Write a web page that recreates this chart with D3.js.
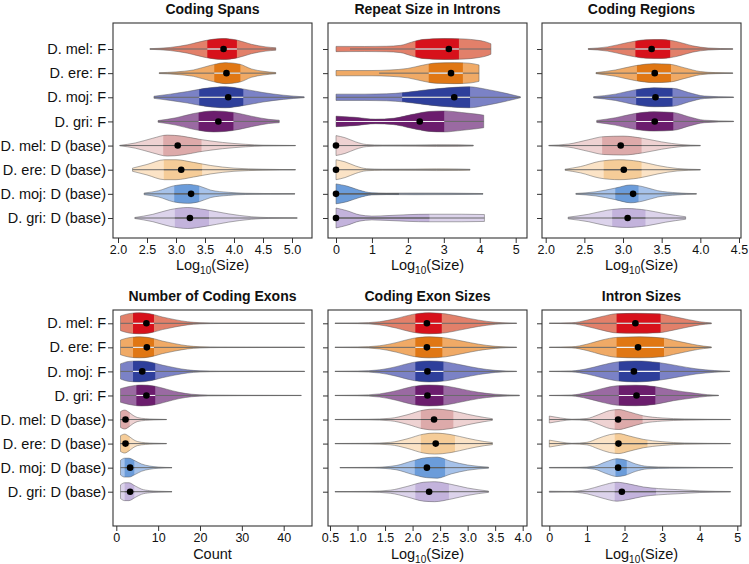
<!DOCTYPE html>
<html><head><meta charset="utf-8">
<script src="https://cdn.jsdelivr.net/npm/d3@7"></script>
<style>body{margin:0;background:#fff;}svg{display:block;font-family:"Liberation Sans",Arial,sans-serif;}</style>
</head><body><svg id="c" width="749" height="564"></svg>
<script>
const categories = ["D. mel: F","D. ere: F","D. moj: F","D. gri: F","D. mel: D (base)","D. ere: D (base)","D. moj: D (base)","D. gri: D (base)"];
const isFull = [true,true,true,true,false,false,false,false];
const outerColors = ["#E2806A","#F0AA66","#7B82C6","#9A6AA2","#EED2D2","#FBE3C6","#A6C2EA","#DCD3EB"];
const innerColors = ["#D7111B","#E07714","#2E3F9B","#6B1D6D","#DDAAAA","#F5CC98","#6B9CDA","#C3B3DC"];
const panelTitles = ["Coding Spans","Repeat Size in Introns","Coding Regions","Number of Coding Exons","Coding Exon Sizes","Intron Sizes"];
const axisTitles = ["log","log","log","Count","log","log"];
const tickValues = [[2.0,2.5,3.0,3.5,4.0,4.5,5.0],[0,1,2,3,4,5],[2.0,2.5,3.0,3.5,4.0,4.5],[0,10,20,30,40],[0.5,1.0,1.5,2.0,2.5,3.0,3.5,4.0],[0,1,2,3,4,5]];
const tickFormats = [".1f","d",".1f","d",".1f","d"];

// stats per category: [whisker low, Q1, Q3, whisker high, mean]
const codingSpansStats = [[2.55,3.54,4.05,4.72,3.82],[2.71,3.66,4.11,4.72,3.87],[2.62,3.40,4.16,5.21,3.90],[2.69,3.39,3.99,4.78,3.73],[2.03,2.78,3.44,5.06,3.03],[2.25,2.79,3.45,5.06,3.09],[2.45,2.97,3.40,5.05,3.26],[2.29,2.98,3.57,5.09,3.24]];
const repeatSizeStats = [[0.39,2.21,3.42,4.31,3.14],[1.2,2.58,3.53,3.98,3.20],[0,1.84,3.73,5.13,3.29],[0,0,3.01,4.11,2.33],[0,0,0,3.82,0],[0,0,0,3.73,0],[0,0,1.75,4.09,0],[0,0,2.6,4.13,0]];
const codingRegionsStats = [[2.55,3.16,3.61,4.42,3.37],[2.65,3.18,3.62,4.42,3.41],[2.62,3.17,3.64,4.43,3.42],[2.66,3.17,3.65,4.43,3.41],[2.04,2.73,3.24,4.00,2.97],[2.25,2.75,3.24,4.00,3.01],[2.39,2.90,3.20,3.95,3.13],[2.29,2.86,3.29,3.81,3.06]];
const exonCountStats = [[1,4,9,45,7.2],[1,4,9,45,7.3],[1,4,9.3,45,6.2],[1,4.8,9.3,44.2,7.2],[1,1,3.2,12,2.2],[1,1,3.2,12,2.2],[1,2,4.3,13.3,3.3],[1,2,4.3,13.3,3.3]];
const exonSizeStats = [[0.59,2.05,2.53,3.89,2.26],[0.59,2.05,2.54,3.89,2.26],[0.59,2.05,2.56,3.89,2.27],[0.59,2.05,2.56,3.94,2.27],[0.59,2.15,2.74,3.45,2.39],[0.59,2.15,2.77,3.45,2.42],[0.68,2.04,2.59,3.38,2.26],[0.59,2.05,2.66,3.38,2.30]];
const intronSizeStats = [[0,1.79,2.96,4.31,2.29],[0,1.79,3.05,4.31,2.36],[0,1.85,2.94,4.80,2.25],[0,1.85,2.82,4.50,2.32],[0,1.74,2.48,4.82,1.83],[0,1.74,2.61,4.82,1.84],[0,1.76,2.06,4.88,1.83],[0,1.74,2.84,4.82,1.93]];

// violin outlines: [value, relative half-width]
const codingSpansShapes = [
 [[2.55,0.03],[2.9,0.15],[3.2,0.4],[3.5,0.8],[3.8,1.0],[4.05,0.85],[4.3,0.45],[4.55,0.2],[4.72,0.12]],
 [[2.71,0.04],[3.0,0.12],[3.3,0.3],[3.6,0.75],[3.85,1.0],[4.1,0.85],[4.3,0.4],[4.5,0.18],[4.72,0.06]],
 [[2.62,0.1],[2.9,0.3],[3.2,0.55],[3.5,0.85],[3.85,1.0],[4.15,0.8],[4.5,0.45],[4.85,0.2],[5.21,0.04]],
 [[2.69,0.08],[3.0,0.35],[3.3,0.75],[3.65,1.0],[4.0,0.85],[4.3,0.5],[4.6,0.2],[4.78,0.12]],
 [[2.03,0.02],[2.3,0.25],[2.6,0.7],[2.85,1.0],[3.1,0.9],[3.4,0.6],[3.8,0.3],[4.2,0.12],[4.5,0.04],[5.06,0.01]],
 [[2.25,0.15],[2.5,0.5],[2.8,0.95],[3.0,0.95],[3.3,0.7],[3.6,0.4],[4.0,0.15],[4.5,0.05],[5.06,0.01]],
 [[2.45,0.08],[2.7,0.3],[2.95,0.75],[3.2,0.9],[3.4,0.75],[3.6,0.35],[3.9,0.15],[4.2,0.06],[5.05,0.01]],
 [[2.29,0.05],[2.6,0.35],[2.9,0.8],[3.2,1.0],[3.5,0.8],[3.9,0.4],[4.3,0.12],[4.6,0.04],[5.09,0.01]]];
const repeatSizeShapes = [
 [[0,0.25],[0.8,0.24],[1.4,0.26],[1.8,0.35],[2.1,0.65],[2.4,0.9],[3.0,1.0],[3.6,0.95],[3.9,0.85],[4.15,0.7],[4.31,0.5]],
 [[0,0.25],[1.0,0.25],[1.5,0.3],[2.0,0.45],[2.4,0.75],[2.8,0.97],[3.3,1.0],[3.7,0.95],[3.98,0.78]],
 [[0,0.3],[0.8,0.3],[1.4,0.33],[1.9,0.45],[2.5,0.7],[3.1,0.9],[3.7,1.0],[4.2,0.75],[4.7,0.4],[5.13,0.05]],
 [[0,0.5],[0.5,0.4],[1.1,0.22],[1.6,0.3],[2.1,0.65],[2.6,0.95],[3.0,1.0],[3.5,0.85],[3.9,0.7],[4.11,0.6]],
 [[0,0.95],[0.25,0.75],[0.55,0.35],[0.85,0.1],[1.3,0.05],[2.2,0.06],[2.8,0.09],[3.4,0.08],[3.82,0.04]],
 [[0,0.95],[0.25,0.75],[0.55,0.35],[0.85,0.1],[1.3,0.05],[2.2,0.06],[2.8,0.08],[3.4,0.07],[3.73,0.04]],
 [[0,0.95],[0.3,0.75],[0.65,0.35],[1.0,0.1],[1.4,0.07],[2.2,0.08],[3.2,0.07],[4.09,0.03]],
 [[0,0.95],[0.3,0.7],[0.65,0.3],[1.0,0.18],[1.5,0.24],[2.0,0.32],[2.6,0.36],[3.5,0.36],[4.13,0.33]]];
const codingRegionsShapes = [
 [[2.55,0.04],[2.8,0.2],[3.05,0.6],[3.3,0.88],[3.5,0.9],[3.7,0.7],[3.9,0.3],[4.1,0.1],[4.42,0.02]],
 [[2.65,0.05],[2.9,0.3],[3.15,0.7],[3.4,0.9],[3.6,0.85],[3.8,0.5],[4.0,0.15],[4.2,0.05],[4.42,0.02]],
 [[2.62,0.06],[2.9,0.3],[3.15,0.7],[3.4,0.9],[3.65,0.85],[3.85,0.45],[4.05,0.12],[4.43,0.02]],
 [[2.66,0.1],[2.9,0.35],[3.15,0.75],[3.4,0.92],[3.65,0.85],[3.85,0.45],[4.05,0.12],[4.43,0.02]],
 [[2.04,0.02],[2.3,0.15],[2.55,0.55],[2.75,0.85],[3.0,0.9],[3.25,0.7],[3.5,0.35],[3.75,0.1],[4.0,0.02]],
 [[2.25,0.05],[2.45,0.3],[2.7,0.8],[2.95,0.95],[3.2,0.8],[3.45,0.4],[3.7,0.12],[4.0,0.02]],
 [[2.39,0.04],[2.65,0.2],[2.9,0.55],[3.1,0.85],[3.25,0.7],[3.45,0.3],[3.7,0.1],[3.95,0.02]],
 [[2.29,0.08],[2.55,0.35],[2.8,0.75],[3.05,0.9],[3.3,0.75],[3.55,0.4],[3.81,0.12]]];
const exonCountShapes = [
 [[1,0.7],[3,0.92],[5.5,1.0],[8,0.92],[11,0.6],[14,0.35],[17,0.15],[20,0.06],[25,0.02],[45,0.01]],
 [[1,0.7],[3,0.92],[5.5,1.0],[8,0.92],[11,0.6],[14,0.35],[17,0.15],[20,0.06],[25,0.02],[45,0.01]],
 [[1,0.72],[3,0.95],[5.5,1.0],[8,0.9],[11,0.6],[14,0.35],[17,0.15],[20,0.06],[25,0.02],[45,0.01]],
 [[1,0.65],[3,0.85],[6,1.0],[9,0.9],[12,0.6],[15,0.3],[18,0.12],[22,0.04],[30,0.02],[44.2,0.01]],
 [[1,0.75],[2,0.9],[3,0.7],[4,0.4],[5,0.2],[7,0.08],[9,0.04],[12,0.01]],
 [[1,0.75],[2,0.9],[3,0.7],[4,0.4],[5,0.2],[7,0.08],[9,0.04],[12,0.01]],
 [[1,0.7],[2,0.9],[3,0.9],[4.5,0.65],[6,0.35],[8,0.15],[10,0.06],[13.3,0.01]],
 [[1,0.65],[2,0.85],[3,0.85],[4.5,0.55],[6,0.25],[8,0.1],[10,0.05],[13.3,0.01]]];
const exonSizeShapes = [
 [[0.59,0.01],[1.0,0.03],[1.4,0.15],[1.7,0.45],[2.0,0.85],[2.3,1.0],[2.6,0.9],[2.9,0.6],[3.2,0.3],[3.5,0.1],[3.89,0.01]],
 [[0.59,0.01],[1.0,0.03],[1.4,0.15],[1.7,0.45],[2.0,0.85],[2.3,1.0],[2.6,0.9],[2.9,0.6],[3.2,0.3],[3.5,0.1],[3.89,0.01]],
 [[0.59,0.01],[1.0,0.03],[1.4,0.15],[1.7,0.45],[2.0,0.85],[2.3,1.0],[2.6,0.9],[2.9,0.6],[3.2,0.3],[3.5,0.1],[3.89,0.01]],
 [[0.59,0.01],[1.0,0.03],[1.4,0.15],[1.7,0.45],[2.0,0.85],[2.3,1.0],[2.6,0.9],[2.9,0.6],[3.2,0.3],[3.5,0.12],[3.94,0.03]],
 [[0.59,0.01],[1.2,0.03],[1.6,0.12],[1.9,0.45],[2.2,0.9],[2.4,1.0],[2.7,0.85],[3.0,0.5],[3.3,0.2],[3.45,0.08]],
 [[0.59,0.01],[1.2,0.03],[1.6,0.12],[1.9,0.45],[2.2,0.9],[2.4,1.0],[2.7,0.85],[3.0,0.5],[3.3,0.2],[3.45,0.1]],
 [[0.68,0.01],[1.3,0.03],[1.7,0.2],[2.0,0.65],[2.25,0.95],[2.45,1.0],[2.7,0.6],[3.0,0.25],[3.38,0.05]],
 [[0.59,0.01],[1.2,0.03],[1.6,0.15],[1.9,0.5],[2.2,0.9],[2.4,0.95],[2.7,0.7],[3.0,0.35],[3.38,0.06]]];
const intronSizeShapes = [
 [[0,0.01],[0.6,0.05],[1.0,0.3],[1.4,0.65],[1.8,0.92],[2.3,0.95],[2.9,0.9],[3.3,0.65],[3.7,0.35],[4.0,0.15],[4.31,0.04]],
 [[0,0.01],[0.6,0.05],[1.0,0.3],[1.4,0.7],[1.8,0.95],[2.4,1.0],[3.0,0.9],[3.4,0.6],[3.8,0.3],[4.1,0.12],[4.31,0.04]],
 [[0,0.01],[0.6,0.05],[1.0,0.25],[1.4,0.6],[1.8,0.9],[2.3,1.0],[2.9,0.85],[3.4,0.55],[3.9,0.25],[4.4,0.08],[4.8,0.01]],
 [[0,0.01],[0.6,0.05],[1.0,0.28],[1.4,0.65],[1.8,0.92],[2.3,0.98],[2.8,0.85],[3.3,0.5],[3.8,0.25],[4.2,0.08],[4.5,0.02]],
 [[0,0.33],[0.3,0.15],[0.6,0.03],[1.0,0.1],[1.3,0.45],[1.6,0.85],[1.85,0.95],[2.1,0.75],[2.5,0.35],[3.0,0.15],[3.6,0.06],[4.82,0.01]],
 [[0,0.33],[0.3,0.15],[0.6,0.03],[1.0,0.12],[1.3,0.5],[1.6,0.85],[1.85,0.95],[2.1,0.75],[2.5,0.4],[3.0,0.18],[3.6,0.06],[4.82,0.01]],
 [[0,0.02],[0.8,0.03],[1.2,0.15],[1.5,0.55],[1.8,0.85],[2.0,0.75],[2.3,0.35],[2.6,0.12],[3.2,0.05],[4.88,0.01]],
 [[0,0.05],[0.5,0.03],[1.0,0.2],[1.4,0.6],[1.8,0.9],[2.1,0.75],[2.5,0.45],[2.9,0.3],[3.4,0.2],[4.0,0.08],[4.82,0.02]]];

const allStats = [codingSpansStats, repeatSizeStats, codingRegionsStats, exonCountStats, exonSizeStats, intronSizeStats];
const allShapes = [codingSpansShapes, repeatSizeShapes, codingRegionsShapes, exonCountShapes, exonSizeShapes, intronSizeShapes];

// layout (pixels)
const frameX = [[113,312],[328,527],[542,741]];
const frameY = [[23,238],[310,526]];
const catRange = [[49,218],[323.3,491.7]];
const xCal = [ {d:[2,5],r:[118,292]}, {d:[0,5],r:[336,515.7]}, {d:[2,4.5],r:[545.7,739]},
               {d:[0,40],r:[116.3,283.7]}, {d:[0.5,4.0],r:[330,522.7]}, {d:[0,5],r:[549.3,737.3]} ];
const maxHalf = 10.5;

const svg = d3.select("#c");
let uid = 0;

allStats.forEach((stats, p) => {
  const row = Math.floor(p/3), col = p%3;
  const [x0,x1] = frameX[col], [y0,y1] = frameY[row];
  const x = d3.scaleLinear().domain(xCal[p].d).range(xCal[p].r);
  const y = d3.scalePoint().domain(categories).range(catRange[row]);
  const w = d3.scaleLinear().domain([0,1]).range([0,maxHalf]);
  const g = svg.append("g");
  const shapes = allShapes[p];

  categories.forEach((cat, i) => {
    const s = stats[i], sh = shapes[i], cy = y(cat);
    const area = d3.area().x(d=>x(d[0])).y0(d=>cy - w(d[1])).y1(d=>cy + w(d[1])).curve(d3.curveMonotoneX);
    const path = area(sh);
    g.append("path").attr("d", path).attr("fill", outerColors[i]).attr("stroke","none");
    if (s[2] > s[1]) {
      const id = "clip" + (uid++);
      g.append("clipPath").attr("id", id).append("rect")
        .attr("x", x(s[1])).attr("y", cy - maxHalf - 2).attr("width", x(s[2]) - x(s[1])).attr("height", 2*maxHalf + 4);
      g.append("path").attr("d", path).attr("fill", innerColors[i]).attr("clip-path", `url(#${id})`);
    }
    g.append("path").attr("d", path).attr("fill","none").attr("stroke","#555").attr("stroke-width",0.6).attr("stroke-opacity",0.8);
    // whisker line
    g.append("line").attr("x1", x(s[0])).attr("x2", x(s[3])).attr("y1", cy).attr("y2", cy)
      .attr("stroke","#6a6a6a").attr("stroke-width",1);
    if (s[2] > s[1]) {
      g.append("line").attr("x1", x(s[1])).attr("x2", x(s[2])).attr("y1", cy).attr("y2", cy)
        .attr("stroke", isFull[i] ? "#f4f4f4" : "#5a5a5a").attr("stroke-width",1.1);
    }
    g.append("circle").attr("cx", x(s[4])).attr("cy", cy).attr("r", 3.3).attr("fill","#000");
  });

  // frame
  svg.append("rect").attr("x", x0).attr("y", y0).attr("width", x1-x0).attr("height", y1-y0)
    .attr("fill","none").attr("stroke","#333").attr("stroke-width",1.1);

  // x axis
  const xa = svg.append("g").attr("transform", `translate(0,${y1})`)
    .call(d3.axisBottom(x).tickValues(tickValues[p]).tickFormat(d3.format(tickFormats[p])).tickSize(5).tickPadding(2));
  xa.select(".domain").remove();
  xa.selectAll("line").attr("stroke","#333");
  xa.selectAll("text").attr("font-size","12.5px").attr("fill","#111").attr("font-family","Liberation Sans, Arial, sans-serif");

  // y axis
  const ya = svg.append("g").attr("transform", `translate(${x0},0)`)
    .call(d3.axisLeft(y).tickSize(5).tickPadding(2));
  ya.select(".domain").remove();
  ya.selectAll("line").attr("stroke","#333");
  if (col === 0) {
    ya.selectAll("text").attr("font-size","14.5px").attr("fill","#111").attr("font-family","Liberation Sans, Arial, sans-serif");
  } else {
    ya.selectAll("text").remove();
  }

  // title
  svg.append("text").attr("x", (x0+x1)/2).attr("y", row===0 ? 14 : 301)
    .attr("text-anchor","middle").attr("font-weight","bold").attr("font-size","14px").attr("fill","#111")
    .text(panelTitles[p]);

  // axis title
  const at = svg.append("text").attr("x", (x0+x1)/2).attr("y", row===0 ? 270 : 559)
    .attr("text-anchor","middle").attr("font-size","14.5px").attr("fill","#111");
  if (axisTitles[p] === "log") {
    at.append("tspan").text("Log");
    at.append("tspan").attr("dy", 4).attr("font-size","10px").text("10");
    at.append("tspan").attr("dy", -4).text("(Size)");
  } else {
    at.text(axisTitles[p]);
  }
});
</script>
</body></html>
